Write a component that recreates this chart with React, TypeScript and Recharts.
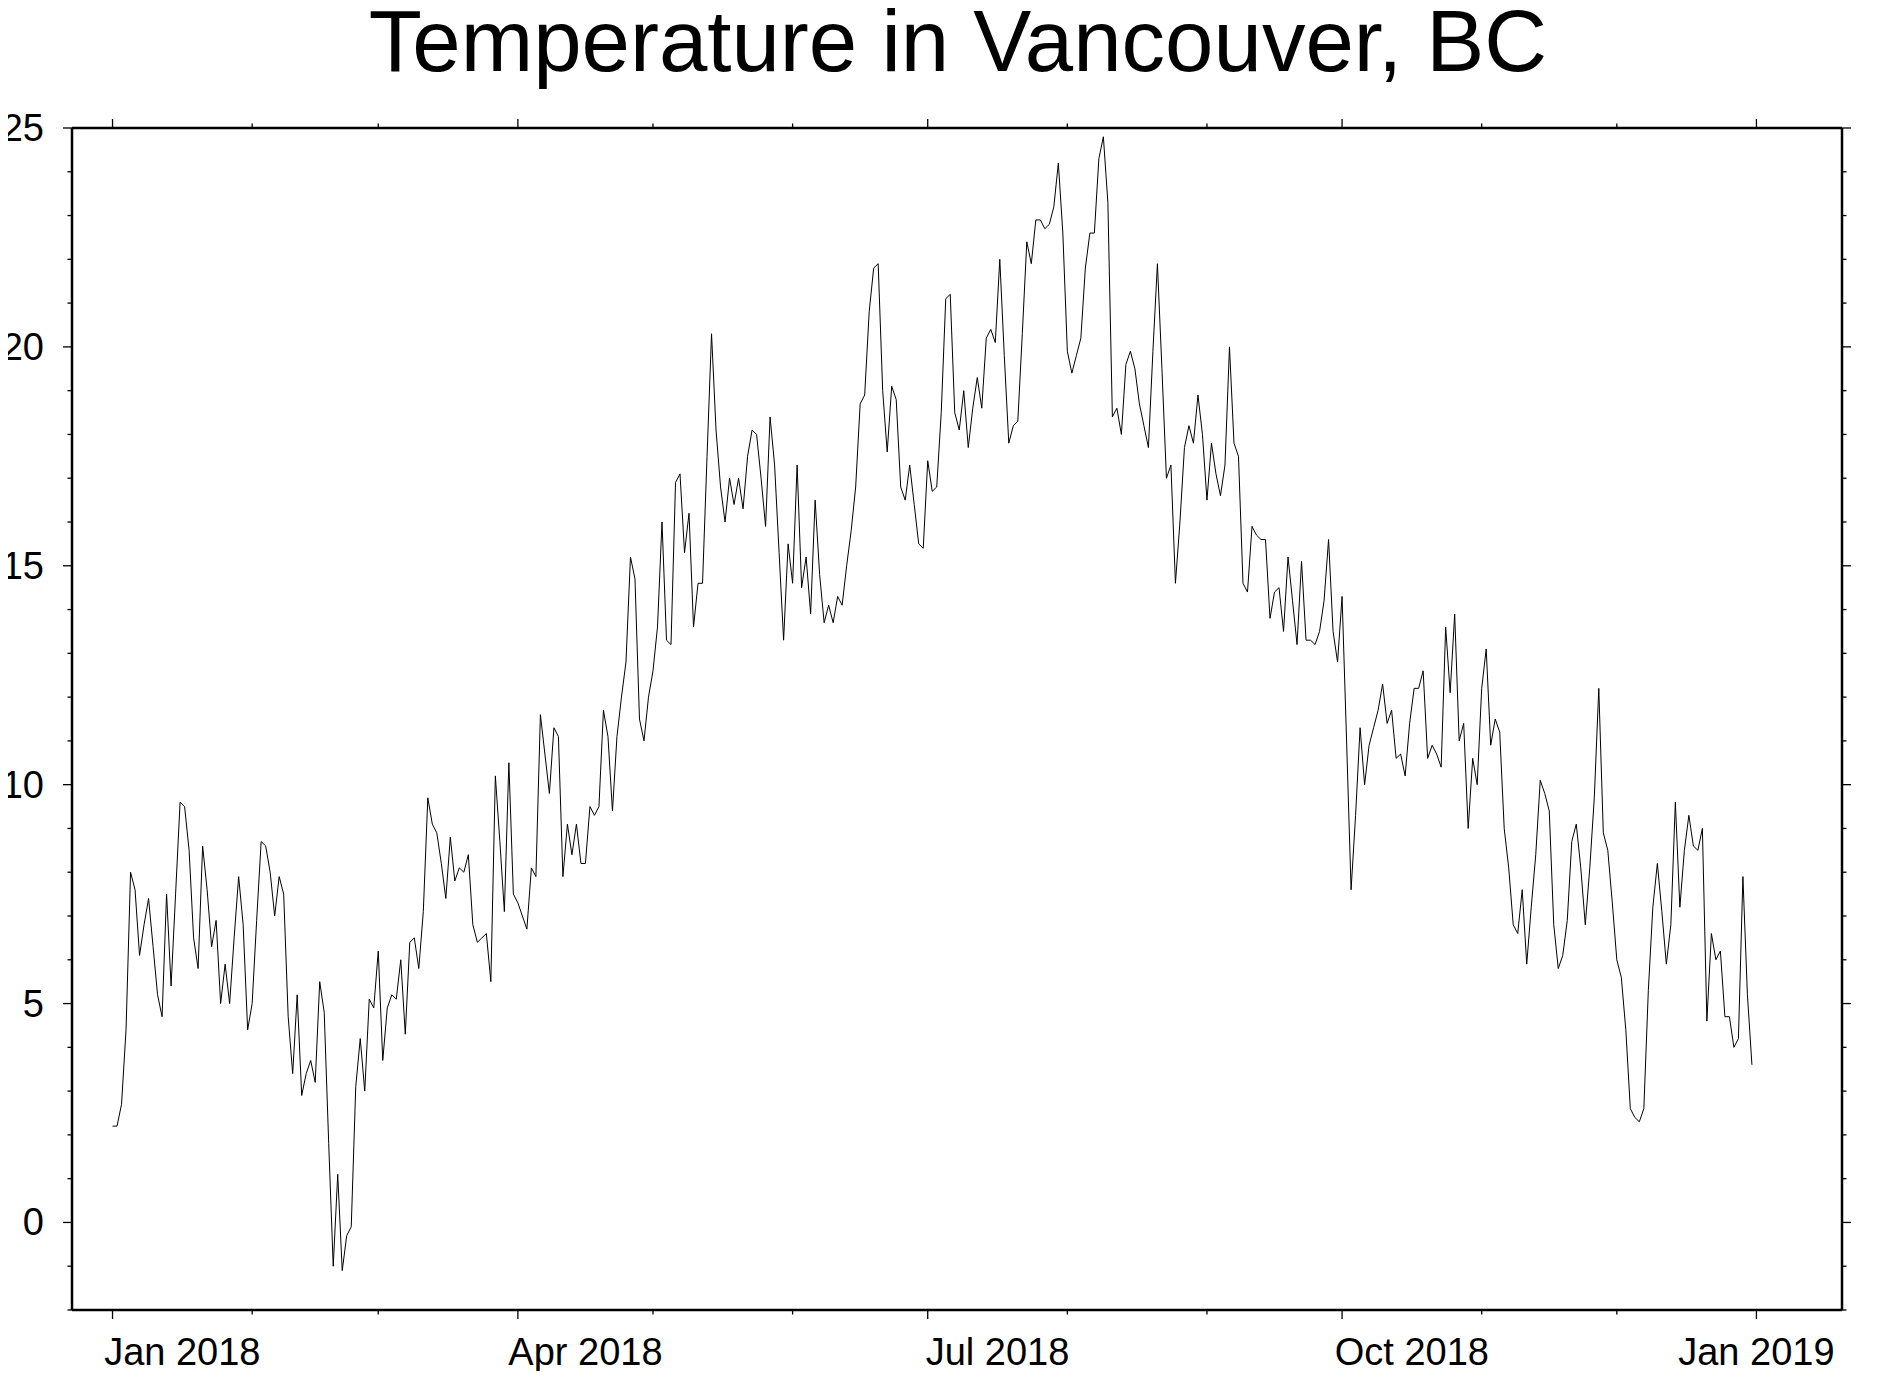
import React from 'react';
import { LineChart, Line, XAxis, YAxis } from 'recharts';

// daily mean temperature, 2018, one array per month
const jan = [2.2, 2.2, 2.7, 4.4, 8.0, 7.6, 6.1, 6.8, 7.4, 6.3, 5.2, 4.7, 7.5, 5.4, 7.5, 9.6, 9.5, 8.5, 6.5, 5.8, 8.6, 7.6, 6.3, 6.9, 5.0, 5.9, 5.0, 6.5, 7.9, 6.8, 4.4];
const feb = [5.0, 6.9, 8.7, 8.6, 8.0, 7.0, 7.9, 7.5, 4.7, 3.4, 5.2, 2.9, 3.4, 3.7, 3.2, 5.5, 4.8, 1.8, -1.0, 1.1, -1.1, -0.3, -0.1, 3.1, 4.2, 3.0, 5.1, 4.9];
const mar = [6.2, 3.7, 4.9, 5.2, 5.1, 6.0, 4.3, 6.4, 6.5, 5.8, 7.1, 9.7, 9.1, 8.9, 8.2, 7.4, 8.8, 7.8, 8.1, 8.0, 8.4, 6.8, 6.4, 6.5, 6.6, 5.5, 10.2, 8.7, 7.1, 10.5, 7.5];
const apr = [7.3, 7.0, 6.7, 8.1, 7.9, 11.6, 10.7, 9.8, 11.3, 11.1, 7.9, 9.1, 8.4, 9.1, 8.2, 8.2, 9.5, 9.3, 9.5, 11.7, 11.1, 9.4, 11.1, 12.0, 12.8, 15.2, 14.7, 11.5, 11.0, 12.0];
const may = [12.6, 13.6, 16.0, 13.3, 13.2, 16.9, 17.1, 15.3, 16.2, 13.6, 14.6, 14.6, 17.5, 20.3, 18.1, 16.8, 16.0, 17.0, 16.4, 17.0, 16.3, 17.5, 18.1, 18.0, 17.0, 15.9, 18.4, 17.3, 15.3, 13.3, 15.5];
const jun = [14.6, 17.3, 14.5, 15.2, 13.9, 16.5, 14.8, 13.7, 14.1, 13.7, 14.3, 14.1, 15.0, 15.8, 16.8, 18.7, 18.9, 20.8, 21.8, 21.9, 19.0, 17.6, 19.1, 18.8, 16.8, 16.5, 17.3, 16.4, 15.5, 15.4];
const jul = [17.4, 16.7, 16.8, 18.5, 21.1, 21.2, 18.5, 18.1, 19.0, 17.7, 18.6, 19.3, 18.6, 20.2, 20.4, 20.1, 22.0, 19.8, 17.8, 18.2, 18.3, 20.3, 22.4, 21.9, 22.9, 22.9, 22.7, 22.8, 23.2, 24.2, 22.6];
const aug = [19.9, 19.4, 19.8, 20.2, 21.8, 22.6, 22.6, 24.3, 24.8, 23.3, 18.4, 18.6, 18.0, 19.6, 19.9, 19.5, 18.7, 18.2, 17.7, 19.9, 21.9, 19.5, 17.0, 17.3, 14.6, 16.0, 17.7, 18.2, 17.8, 18.9, 18.0];
const sep = [16.5, 17.8, 17.1, 16.6, 17.3, 20.0, 17.8, 17.5, 14.6, 14.4, 15.9, 15.7, 15.6, 15.6, 13.8, 14.4, 14.5, 13.5, 15.2, 14.2, 13.2, 15.1, 13.3, 13.3, 13.2, 13.5, 14.2, 15.6, 13.5, 12.8];
const oct = [14.3, 11.0, 7.6, 9.3, 11.3, 10.0, 10.9, 11.3, 11.7, 12.3, 11.4, 11.7, 10.6, 10.7, 10.2, 11.4, 12.2, 12.2, 12.6, 10.6, 10.9, 10.7, 10.4, 13.6, 12.1, 13.9, 11.0, 11.4, 9.0, 10.6, 10.0];
const nov = [12.2, 13.1, 10.9, 11.5, 11.2, 9.0, 8.1, 6.8, 6.6, 7.6, 5.9, 7.2, 8.4, 10.1, 9.8, 9.4, 6.8, 5.8, 6.1, 6.9, 8.7, 9.1, 8.1, 6.8, 8.1, 9.7, 12.2, 8.9, 8.5, 7.3];
const dec = [6.0, 5.6, 4.4, 2.6, 2.4, 2.3, 2.6, 5.3, 7.2, 8.2, 7.1, 5.9, 6.8, 9.6, 7.2, 8.5, 9.3, 8.6, 8.5, 9.0, 4.6, 6.6, 6.0, 6.2, 4.7, 4.7, 4.0, 4.2, 7.9, 5.2, 3.6];

const months = [jan, feb, mar, apr, may, jun, jul, aug, sep, oct, nov, dec];
const monthNames = ['Jan', 'Feb', 'Mar', 'Apr', 'May', 'Jun', 'Jul', 'Aug', 'Sep', 'Oct', 'Nov', 'Dec'];

// tick positions (month starts), labelled every quarter
const monthTicks = [
  [2018, 0], [2018, 1], [2018, 2], [2018, 3], [2018, 4], [2018, 5], [2018, 6],
  [2018, 7], [2018, 8], [2018, 9], [2018, 10], [2018, 11], [2019, 0],
].map(([y, m]) => Date.UTC(y, m, 1));
const labelledMonths = [0, 3, 6, 9];

const yTicks = Array.from({ length: 28 }, (_, i) => i - 2);
const yLabels = [0, 5, 10, 15, 20, 25];

const DAY = 86400000;
const xDomain = [Date.UTC(2017, 11, 23), Date.UTC(2019, 0, 20)];
const yDomain = [-2, 25];

const data = months.flat().map((temp, i) => ({ t: Date.UTC(2018, 0, 1) + i * DAY, temp }));

const FONT = '"Liberation Sans", Arial, Helvetica, sans-serif';
const MAJOR = 9;
const MINOR = 4.5;
const TICK_W = 1.3;
const LABEL_SIZE = 38;

const isMajorX = (v: number) => labelledMonths.includes(new Date(v).getUTCMonth());
const xLabel = (v: number) => {
  const d = new Date(v);
  return `${monthNames[d.getUTCMonth()]} ${d.getUTCFullYear()}`;
};
// half the length of the month that starts at v, in ms
const halfMonth = (v: number) => {
  const d = new Date(v);
  return (Date.UTC(d.getUTCFullYear(), d.getUTCMonth() + 1, 1) - v) / 2;
};

function BottomTick(props: any) {
  const { x, y, payload, width } = props;
  const major = isMajorX(payload.value);
  const last = payload.value === monthTicks[monthTicks.length - 1];
  const pxPerMs = (Number(width) || 1770) / (xDomain[1] - xDomain[0]);
  // annotations sit in the middle of their month, the closing one on its tick
  const lx = last ? x : x + halfMonth(payload.value) * pxPerMs;
  return (
    <g>
      <line x1={x} y1={y} x2={x} y2={y + (major ? MAJOR : MINOR)} stroke="#000" strokeWidth={TICK_W} />
      {major && (
        <text x={lx} y={y + 55} textAnchor="middle" fontSize={LABEL_SIZE} fontFamily={FONT} fill="#000">
          {xLabel(payload.value)}
        </text>
      )}
    </g>
  );
}

function TopTick(props: any) {
  const { x, y, payload } = props;
  const major = isMajorX(payload.value);
  return <line x1={x} y1={y} x2={x} y2={y - (major ? MAJOR : MINOR)} stroke="#000" strokeWidth={TICK_W} />;
}

function LeftTick(props: any) {
  const { x, y, payload } = props;
  const major = yLabels.includes(payload.value);
  return (
    <g>
      <line x1={x} y1={y} x2={x - (major ? MAJOR : MINOR)} y2={y} stroke="#000" strokeWidth={TICK_W} />
      {major && (
        <text x={x - 28} y={y + 13} textAnchor="end" fontSize={LABEL_SIZE} fontFamily={FONT} fill="#000">
          {payload.value}
        </text>
      )}
    </g>
  );
}

function RightTick(props: any) {
  const { x, y, payload } = props;
  const major = yLabels.includes(payload.value);
  return <line x1={x} y1={y} x2={x + (major ? MAJOR : MINOR)} y2={y} stroke="#000" strokeWidth={TICK_W} />;
}

const frame = { stroke: '#000', strokeWidth: 2.5 };

export default function App() {
  return (
    <div style={{ position: 'relative', margin: -8, width: 1883, height: 1379, background: '#fff', overflow: 'hidden' }}>
      <div
        style={{
          position: 'absolute',
          left: 58,
          width: 1800,
          top: 0,
          textAlign: 'center',
          fontFamily: FONT,
          fontSize: 87,
          lineHeight: '81px',
          color: '#000',
          whiteSpace: 'nowrap',
        }}
      >
        Temperature in Vancouver, BC
      </div>
      <LineChart width={1883} height={1379} data={data} margin={{ top: 108, right: 0, bottom: 0, left: 0 }}>
        <XAxis
          xAxisId="x"
          dataKey="t"
          type="number"
          domain={xDomain}
          allowDataOverflow
          ticks={monthTicks}
          interval={0}
          height={69}
          tickSize={0}
          tickMargin={0}
          tickLine={false}
          axisLine={frame}
          tick={<BottomTick />}
        />
        <XAxis
          xAxisId="top"
          dataKey="t"
          orientation="top"
          type="number"
          domain={xDomain}
          allowDataOverflow
          ticks={monthTicks}
          interval={0}
          height={20}
          tickSize={0}
          tickMargin={0}
          tickLine={false}
          axisLine={frame}
          tick={<TopTick />}
        />
        <YAxis
          yAxisId="y"
          type="number"
          domain={yDomain}
          allowDataOverflow
          ticks={yTicks}
          interval={0}
          width={72}
          tickSize={0}
          tickMargin={0}
          tickLine={false}
          axisLine={frame}
          tick={<LeftTick />}
        />
        <YAxis
          yAxisId="right"
          orientation="right"
          type="number"
          domain={yDomain}
          allowDataOverflow
          ticks={yTicks}
          interval={0}
          width={41}
          tickSize={0}
          tickMargin={0}
          tickLine={false}
          axisLine={frame}
          tick={<RightTick />}
        />
        <Line
          xAxisId="x"
          yAxisId="y"
          dataKey="temp"
          type="linear"
          stroke="#000"
          strokeWidth={1}
          dot={false}
          isAnimationActive={false}
        />
      </LineChart>
    </div>
  );
}
